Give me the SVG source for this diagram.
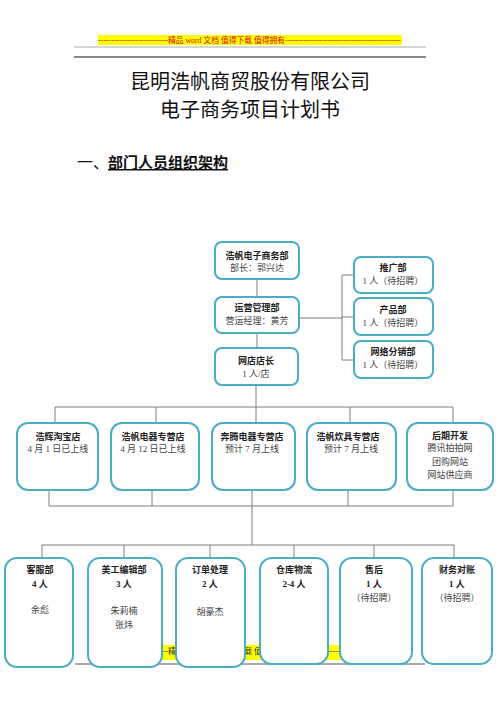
<svg xmlns="http://www.w3.org/2000/svg" width="500" height="707" viewBox="0 0 500 707">
<style>
text{font-family:"Liberation Serif","Noto Sans CJK SC",serif;fill:#333;}
.t{font-size:9px;font-weight:bold;text-anchor:middle;fill:#222;}
.s{font-size:9px;text-anchor:middle;fill:#444;}
.box{fill:#fff;stroke:#4bacc6;stroke-width:2;}
.con{stroke:#7f7f7f;stroke-width:1;fill:none;}
.ban{fill:#ffff00;}
.bt{font-size:8px;fill:#e00000;}
.h1{font-size:20px;text-anchor:middle;fill:#111;}
</style>
<rect width="500" height="707" fill="#fff"/>

<!-- header banner -->
<rect class="ban" x="98" y="35" width="304" height="10"/>
<text class="bt" x="98" y="43" textLength="70" lengthAdjust="spacing">--------------------------</text>
<text class="bt" x="168" y="43" textLength="117" lengthAdjust="spacingAndGlyphs">精品 word 文档 值得下载 值得拥有</text>
<text class="bt" x="285" y="43" textLength="116" lengthAdjust="spacing">--------------------------------------------</text>
<line x1="74" y1="47" x2="426" y2="47" stroke="#aaa" stroke-width="1"/>
<line x1="74" y1="57" x2="426" y2="57" stroke="#888" stroke-width="2"/>

<text class="h1" x="250" y="89">昆明浩帆商贸股份有限公司</text>
<text class="h1" x="250" y="117">电子商务项目计划书</text>
<text x="77" y="168" style="font-size:16px;fill:#111;">一、</text>
<text x="108" y="168" style="font-size:15px;font-weight:bold;fill:#111;text-decoration:underline;">部门人员组织架构</text>

<!-- footer banner -->
<rect class="ban" x="98" y="645" width="304" height="15"/>
<text class="bt" x="98" y="654" style="fill:#333" textLength="70" lengthAdjust="spacing">--------------------------</text>
<text class="bt" x="168" y="654" style="fill:#333" textLength="117" lengthAdjust="spacingAndGlyphs">精品 word 文档 值得下载 值得拥有</text>
<text class="bt" x="285" y="654" style="fill:#333" textLength="116" lengthAdjust="spacing">--------------------------------------------</text>
<line x1="75" y1="664" x2="425" y2="664" stroke="#aaa" stroke-width="2"/>

<g id="connectors">
<line class="con" x1="257" y1="279" x2="257" y2="297"/>
<line class="con" x1="257" y1="333" x2="257" y2="348"/>
<line class="con" x1="299" y1="318" x2="342" y2="318"/>
<line class="con" x1="342" y1="275" x2="342" y2="360"/>
<line class="con" x1="342" y1="275" x2="353" y2="275"/>
<line class="con" x1="342" y1="317" x2="353" y2="317"/>
<line class="con" x1="342" y1="360" x2="353" y2="360"/>
<line class="con" x1="256" y1="385" x2="256" y2="423"/>
<line class="con" x1="55" y1="407" x2="453" y2="407"/>
<line class="con" x1="55" y1="407" x2="55" y2="423"/>
<line class="con" x1="156" y1="407" x2="156" y2="423"/>
<line class="con" x1="350" y1="407" x2="350" y2="423"/>
<line class="con" x1="453" y1="407" x2="453" y2="423"/>
<line class="con" x1="49" y1="490" x2="49" y2="506"/>
<line class="con" x1="152" y1="490" x2="152" y2="506"/>
<line class="con" x1="252" y1="490" x2="252" y2="545"/>
<line class="con" x1="348" y1="490" x2="348" y2="506"/>
<line class="con" x1="453" y1="490" x2="453" y2="506"/>
<line class="con" x1="49" y1="506" x2="453" y2="506"/>
<line class="con" x1="42" y1="545" x2="454" y2="545"/>
<line class="con" x1="42" y1="545" x2="42" y2="558"/>
<line class="con" x1="124" y1="545" x2="124" y2="558"/>
<line class="con" x1="210" y1="545" x2="210" y2="558"/>
<line class="con" x1="294" y1="545" x2="294" y2="558"/>
<line class="con" x1="374" y1="545" x2="374" y2="558"/>
<line class="con" x1="454" y1="545" x2="454" y2="558"/>
</g>

<g id="n_dept"><rect class="box" x="215" y="242" width="84" height="37" rx="7"/>
<text class="t" x="257" y="259">浩帆电子商务部</text><text class="s" x="257" y="271">部长：郭兴达</text></g>
<g id="n_ops"><rect class="box" x="215" y="297" width="84" height="36" rx="7"/>
<text class="t" x="257" y="311">运营管理部</text><text class="s" x="257" y="324">营运经理：黄芳</text></g>
<g id="n_shop"><rect class="box" x="215" y="348" width="83" height="37" rx="7"/>
<text class="t" x="256" y="364">网店店长</text><text class="s" x="256" y="377">1 人/店</text></g>

<g id="n_promo"><rect class="box" x="354" y="257" width="79" height="36" rx="7"/>
<text class="t" x="393" y="271">推广部</text><text class="s" x="393" y="284">1 人（待招聘）</text></g>
<g id="n_prod"><rect class="box" x="354" y="298" width="79" height="37" rx="7"/>
<text class="t" x="393" y="313">产品部</text><text class="s" x="393" y="326">1 人（待招聘）</text></g>
<g id="n_dist"><rect class="box" x="354" y="341" width="79" height="37" rx="7"/>
<text class="t" x="393" y="355">网络分销部</text><text class="s" x="393" y="368">1 人（待招聘）</text></g>

<g id="n_r2a"><rect class="box" x="17" y="423" width="81" height="67" rx="11"/>
<text class="t" x="58" y="440">浩辉淘宝店</text><text class="s" x="58" y="452">4 月 1 日已上线</text></g>
<g id="n_r2b"><rect class="box" x="111" y="423" width="88" height="67" rx="11"/>
<text class="t" x="153" y="440">浩帆电器专营店</text><text class="s" x="153" y="452">4 月 12 日已上线</text></g>
<g id="n_r2c"><rect class="box" x="212" y="423" width="83" height="67" rx="11"/>
<text class="t" x="252" y="440">奔腾电器专营店</text><text class="s" x="252" y="452">预计 7 月上线</text></g>
<g id="n_r2d"><rect class="box" x="307" y="423" width="89" height="67" rx="11"/>
<text class="t" x="348" y="440">浩帆炊具专营店</text><text class="s" x="351" y="452">预计 7 月上线</text></g>
<g id="n_r2e"><rect class="box" x="407" y="423" width="86" height="67" rx="11"/>
<text class="t" x="450" y="439">后期开发</text><text class="s" x="450" y="451">腾讯拍拍网</text><text class="s" x="450" y="465">团购网站</text><text class="s" x="450" y="478">网站供应商</text></g>

<g id="n_r3a"><rect class="box" x="5" y="558" width="68" height="109" rx="12"/>
<text class="t" x="40" y="573">客服部</text><text class="t" x="40" y="587">4 人</text><text class="s" x="40" y="613">余彪</text></g>
<g id="n_r3b"><rect class="box" x="88" y="558" width="74" height="109" rx="12"/>
<text class="t" x="124" y="573">美工编辑部</text><text class="t" x="124" y="587">3 人</text><text class="s" x="124" y="614">朱莉楠</text><text class="s" x="124" y="628">张炜</text></g>
<g id="n_r3c"><rect class="box" x="176" y="558" width="69" height="109" rx="12"/>
<text class="t" x="210" y="573">订单处理</text><text class="t" x="210" y="587">2 人</text><text class="s" x="210" y="615">胡豪杰</text></g>
<g id="n_r3d"><rect class="box" x="260" y="558" width="68" height="106" rx="12"/>
<text class="t" x="294" y="573">仓库物流</text><text class="t" x="294" y="587">2-4 人</text></g>
<g id="n_r3e"><rect class="box" x="340" y="558" width="72" height="106" rx="12"/>
<text class="t" x="374" y="573">售后</text><text class="t" x="374" y="587">1 人</text><text class="s" x="374" y="601">（待招聘）</text></g>
<g id="n_r3f"><rect class="box" x="422" y="558" width="70" height="106" rx="12"/>
<text class="t" x="457" y="573">财务对账</text><text class="t" x="457" y="587">1 人</text><text class="s" x="457" y="601">（待招聘）</text></g>
</svg>
